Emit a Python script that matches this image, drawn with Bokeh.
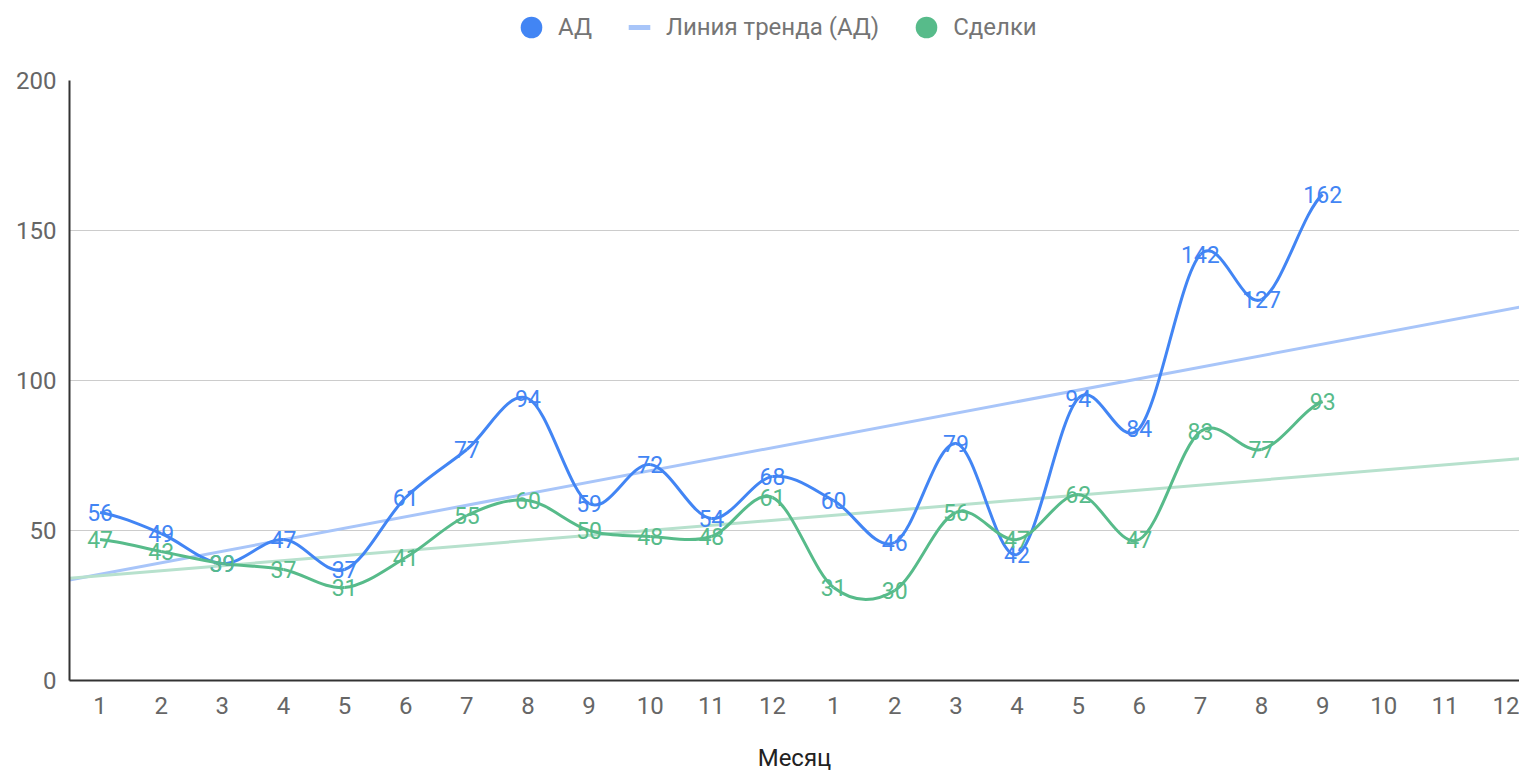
import numpy as np
from bokeh.plotting import figure
from bokeh.layouts import column
from bokeh.models import ColumnDataSource, Legend, LegendItem, FixedTicker, Range1d
from bokeh.embed import file_html
from bokeh.resources import INLINE

# ---- data ----
month_labels = [1, 2, 3, 4, 5, 6, 7, 8, 9, 10, 11, 12,
                1, 2, 3, 4, 5, 6, 7, 8, 9, 10, 11, 12]
ad = [56, 49, 39, 47, 37, 61, 77, 94, 59, 72, 54, 68,
      60, 46, 79, 42, 94, 84, 142, 127, 162]
deals = [47, 43, 39, 37, 31, 41, 55, 60, 50, 48, 48, 61,
         31, 30, 56, 47, 62, 47, 83, 77, 93]
y_ticks = [0, 50, 100, 150, 200]

BLUE = "#4285F4"
GREEN = "#57BB8A"
BLUE_TREND = "#A8C5F9"
GREEN_TREND = "#B7E1CD"
FONT = "Roboto"

positions = list(range(1, len(month_labels) + 1))
x_start, x_end = 0.5, 24.22

p = figure(width=1519, height=715, output_backend="svg", toolbar_location=None,
           x_range=Range1d(x_start, x_end), y_range=Range1d(0, 200),
           min_border_left=69, min_border_right=0, min_border_top=20,
           min_border_bottom=95)
p.outline_line_color = None
p.background_fill_color = "white"
p.border_fill_color = "white"
p.xgrid.grid_line_color = None
p.ygrid.grid_line_color = "#CCCCCC"
p.ygrid.grid_line_width = 1

# axes
p.xaxis.ticker = FixedTicker(ticks=positions)
p.xaxis.major_label_overrides = {i: str(m) for i, m in zip(positions, month_labels)}
p.yaxis.ticker = FixedTicker(ticks=y_ticks)
for ax in (p.xaxis[0], p.yaxis[0]):
    ax.major_tick_line_color = None
    ax.minor_tick_line_color = None
    ax.axis_line_color = "#333333"
    ax.axis_line_width = 2
    ax.major_label_text_font = FONT
    ax.major_label_text_font_size = "24px"
    ax.major_label_text_color = "#666666"
p.yaxis.major_label_standoff = 7
p.xaxis.major_label_standoff = 10
p.xaxis.axis_label = "Месяц"
p.xaxis.axis_label_text_font = FONT
p.xaxis.axis_label_text_font_size = "24px"
p.xaxis.axis_label_text_font_style = "normal"
p.xaxis.axis_label_text_color = "#222222"
p.xaxis.axis_label_standoff = 27


def smooth_segments(xs, ys):
    n = len(xs)
    xs = np.asarray(xs, float)
    ys = np.asarray(ys, float)
    tang = np.zeros(n)
    for i in range(n):
        if i == 0:
            tang[i] = (ys[1] - ys[0]) / 2.0
        elif i == n - 1:
            tang[i] = (ys[-1] - ys[-2]) / 2.0
        else:
            tang[i] = (ys[i + 1] - ys[i - 1]) / 2.0
    return dict(
        x0=xs[:-1], y0=ys[:-1], x1=xs[1:], y1=ys[1:],
        cx0=xs[:-1] + 1 / 3, cy0=ys[:-1] + tang[:-1] / 3,
        cx1=xs[1:] - 1 / 3, cy1=ys[1:] - tang[1:] / 3,
    )


xa = positions[:len(ad)]
xd = positions[:len(deals)]

# trend lines (least squares, as the original chart computes)
ka, ba = np.polyfit(xa, ad, 1)
kd, bd = np.polyfit(xd, deals, 1)
tx = [x_start, x_end]
ty_ad = [ka * t + ba for t in tx]
p.line(tx, ty_ad, line_color=BLUE_TREND, line_width=3)
p.line(tx, [kd * t + bd for t in tx], line_color=GREEN_TREND, line_width=3)

# smoothed series
p.bezier(source=ColumnDataSource(smooth_segments(xa, ad)), x0="x0", y0="y0", x1="x1", y1="y1",
         cx0="cx0", cy0="cy0", cx1="cx1", cy1="cy1", line_color=BLUE, line_width=3)
p.bezier(source=ColumnDataSource(smooth_segments(xd, deals)), x0="x0", y0="y0", x1="x1", y1="y1",
         cx0="cx0", cy0="cy0", cx1="cx1", cy1="cy1", line_color=GREEN, line_width=3)

# data labels
src_a = ColumnDataSource(dict(x=xa, y=ad, t=[str(v) for v in ad]))
src_d = ColumnDataSource(dict(x=xd, y=deals, t=[str(v) for v in deals]))
for src, col in ((src_a, BLUE), (src_d, GREEN)):
    p.text(x="x", y="y", text="t", source=src, text_color=col, text_align="center",
           text_baseline="middle", text_font_size="23px",
           text_font={"value": FONT})

# ---- legend strip on top (its own small figure, markers only shown in the legend) ----
lg = figure(width=1519, height=60, output_backend="svg", toolbar_location=None,
            x_range=Range1d(x_start, x_end), y_range=Range1d(0, 200),
            min_border=0, min_border_left=0, min_border_right=0,
            min_border_top=0, min_border_bottom=0)
lg.axis.visible = False
lg.grid.grid_line_color = None
lg.outline_line_color = None
lg.background_fill_color = "white"
lg.border_fill_color = "white"
sc_ad = lg.scatter(xa, ad, size=0, fill_color=BLUE, line_color=None)
sc_trend = lg.scatter(tx, ty_ad, size=0, marker="dash", line_color=BLUE_TREND, line_width=5)
sc_deals = lg.scatter(xd, deals, size=0, fill_color=GREEN, line_color=None)

legend = Legend(items=[LegendItem(label="АД", renderers=[sc_ad]),
                       LegendItem(label="Линия тренда (АД)", renderers=[sc_trend]),
                       LegendItem(label="Сделки", renderers=[sc_deals])],
                location=(435, 6), orientation="horizontal",
                glyph_width=54, glyph_height=54, padding=0, margin=0, spacing=20,
                label_standoff=0, background_fill_alpha=0, border_line_alpha=0,
                label_text_font=FONT, label_text_font_size="24px",
                label_text_color="#757575")
lg.add_layout(legend)

open("out.html", "w").write(file_html(column(lg, p, spacing=0), INLINE))
